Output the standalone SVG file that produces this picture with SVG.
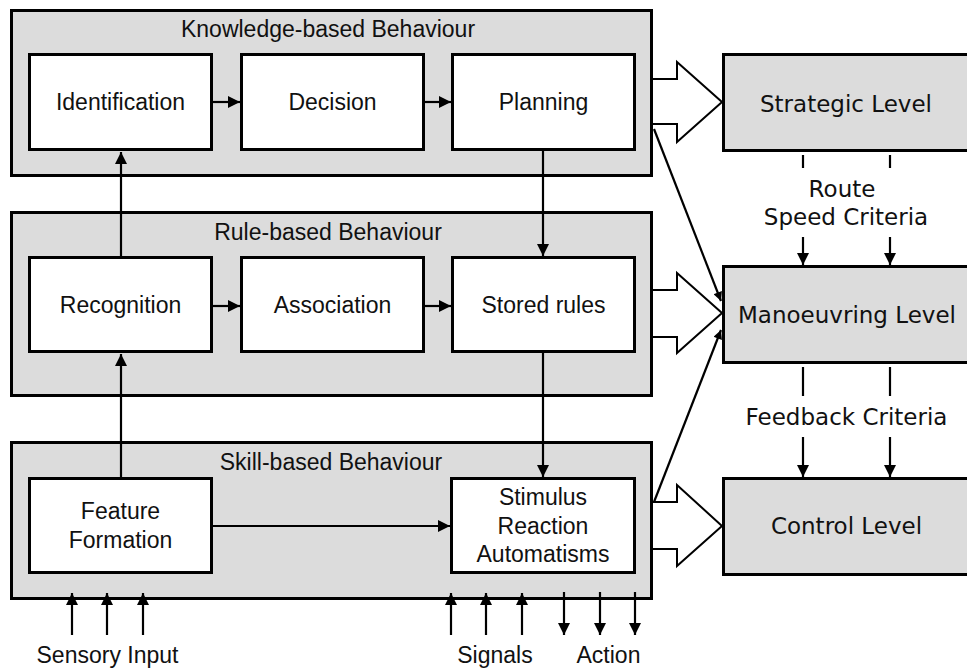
<svg xmlns="http://www.w3.org/2000/svg" width="967" height="669" viewBox="0 0 967 669">
<defs>
<style>
.group{fill:#dcdcdc;stroke:#000;stroke-width:3}
.box{fill:#fff;stroke:#000;stroke-width:3}
.level{fill:#dcdcdc;stroke:#000;stroke-width:3}
.t{font-family:"Liberation Sans",Arial,sans-serif;font-size:23px;fill:#111;text-anchor:middle}
.v{font-family:"DejaVu Sans",Verdana,sans-serif;font-size:23px;fill:#111;text-anchor:middle}
.c{stroke:#000;stroke-width:2.2;fill:none}
.hollow{fill:#fff;stroke:#000;stroke-width:2}
</style>
<marker id="ah" viewBox="0 0 10 10" refX="10" refY="5" markerUnits="userSpaceOnUse" markerWidth="13" markerHeight="12" orient="auto">
<path d="M0,0 L10,5 L0,10 z" fill="#000"/>
</marker>
<marker id="ahs" viewBox="0 0 10 10" refX="10" refY="5" markerUnits="userSpaceOnUse" markerWidth="11" markerHeight="9" orient="auto">
<path d="M0,0 L10,5 L0,10 z" fill="#000"/>
</marker>
</defs>

<g id="knowledge-group">
<rect class="group" x="11.5" y="10.5" width="640" height="165"/>
<text class="t" x="328" y="37">Knowledge-based Behaviour</text>
</g>
<g id="rule-group">
<rect class="group" x="11.5" y="212.5" width="640" height="183"/>
<text class="t" x="328" y="240">Rule-based Behaviour</text>
</g>
<g id="skill-group">
<rect class="group" x="11.5" y="442.5" width="640" height="156"/>
<text class="t" x="331" y="470">Skill-based Behaviour</text>
</g>

<g id="identification">
<rect class="box" x="29.5" y="54.5" width="182" height="95"/>
<text class="t" x="120.5" y="110">Identification</text>
</g>
<g id="decision">
<rect class="box" x="241.5" y="54.5" width="182" height="95"/>
<text class="t" x="332.5" y="110">Decision</text>
</g>
<g id="planning">
<rect class="box" x="452.5" y="54.5" width="182" height="95"/>
<text class="t" x="543.5" y="110">Planning</text>
</g>
<g id="recognition">
<rect class="box" x="29.5" y="257.5" width="182" height="94"/>
<text class="t" x="120.5" y="313">Recognition</text>
</g>
<g id="association">
<rect class="box" x="241.5" y="257.5" width="182" height="94"/>
<text class="t" x="332.5" y="313">Association</text>
</g>
<g id="stored-rules">
<rect class="box" x="452.5" y="257.5" width="182" height="94"/>
<text class="t" x="543.5" y="313">Stored rules</text>
</g>
<g id="feature-formation">
<rect class="box" x="29.5" y="478.5" width="182" height="94"/>
<text class="t" x="120.5" y="519">Feature</text>
<text class="t" x="120.5" y="548">Formation</text>
</g>
<g id="stimulus">
<rect class="box" x="451.5" y="478.5" width="183" height="94"/>
<text class="t" x="543" y="505">Stimulus</text>
<text class="t" x="543" y="534">Reaction</text>
<text class="t" x="543" y="562">Automatisms</text>
</g>

<g id="strategic-level">
<rect class="level" x="723.5" y="54.5" width="260" height="96"/>
<text class="v" x="846" y="112">Strategic Level</text>
</g>
<g id="manoeuvring-level">
<rect class="level" x="723.5" y="266.5" width="260" height="96"/>
<text class="v" x="847" y="323">Manoeuvring Level</text>
</g>
<g id="control-level">
<rect class="level" x="723.5" y="478.5" width="260" height="96"/>
<text class="v" x="846.5" y="534">Control Level</text>
</g>

<g id="connectors">
<!-- horizontal inner arrows -->
<line class="c" x1="213" y1="102" x2="240" y2="102" marker-end="url(#ah)"/>
<line class="c" x1="425" y1="102" x2="451" y2="102" marker-end="url(#ah)"/>
<line class="c" x1="213" y1="306" x2="240" y2="306" marker-end="url(#ah)"/>
<line class="c" x1="425" y1="306" x2="451" y2="306" marker-end="url(#ah)"/>
<line class="c" x1="213" y1="526" x2="450" y2="526" marker-end="url(#ah)"/>
<!-- vertical inner arrows -->
<line class="c" x1="121" y1="256" x2="121" y2="152" marker-end="url(#ah)"/>
<line class="c" x1="121" y1="477" x2="121" y2="354" marker-end="url(#ah)"/>
<line class="c" x1="543" y1="151" x2="543" y2="256" marker-end="url(#ah)"/>
<line class="c" x1="543" y1="353" x2="543" y2="477" marker-end="url(#ah)"/>
<!-- hollow arrows -->
<path class="hollow" d="M653,79 H677 V62 L722,102 L677,142 V124 H653"/>
<path class="hollow" d="M653,290 H677 V273 L722,313 L677,353 V337 H653"/>
<path class="hollow" d="M653,502 H677 V485 L722,526 L677,566 V549 H653"/>
<!-- diagonal arrows to manoeuvring -->
<line class="c" x1="654" y1="129" x2="721" y2="301" marker-end="url(#ahs)"/>
<line class="c" x1="654" y1="502" x2="721" y2="330" marker-end="url(#ahs)"/>
<!-- strategic to manoeuvring -->
<line class="c" x1="803" y1="155" x2="803" y2="168"/>
<line class="c" x1="890" y1="155" x2="890" y2="168"/>
<line class="c" x1="803" y1="237" x2="803" y2="265" marker-end="url(#ah)"/>
<line class="c" x1="890" y1="237" x2="890" y2="265" marker-end="url(#ah)"/>
<text class="v" x="842" y="197">Route</text>
<text class="v" x="846" y="225">Speed Criteria</text>
<!-- manoeuvring to control -->
<line class="c" x1="803" y1="367" x2="803" y2="396"/>
<line class="c" x1="890" y1="367" x2="890" y2="396"/>
<line class="c" x1="803" y1="437" x2="803" y2="477" marker-end="url(#ah)"/>
<line class="c" x1="890" y1="437" x2="890" y2="477" marker-end="url(#ah)"/>
<text class="v" x="846.5" y="425">Feedback Criteria</text>
<!-- bottom inputs / outputs -->
<line class="c" x1="72" y1="635" x2="72" y2="593" marker-end="url(#ah)"/>
<line class="c" x1="107" y1="635" x2="107" y2="593" marker-end="url(#ah)"/>
<line class="c" x1="143" y1="635" x2="143" y2="593" marker-end="url(#ah)"/>
<line class="c" x1="451" y1="635" x2="451" y2="593" marker-end="url(#ah)"/>
<line class="c" x1="486" y1="635" x2="486" y2="593" marker-end="url(#ah)"/>
<line class="c" x1="522" y1="635" x2="522" y2="593" marker-end="url(#ah)"/>
<line class="c" x1="564" y1="592" x2="564" y2="635" marker-end="url(#ah)"/>
<line class="c" x1="600" y1="592" x2="600" y2="635" marker-end="url(#ah)"/>
<line class="c" x1="635" y1="592" x2="635" y2="635" marker-end="url(#ah)"/>
<text class="t" x="107.5" y="663">Sensory Input</text>
<text class="t" x="495" y="663">Signals</text>
<text class="t" x="608.5" y="663">Action</text>
</g>
</svg>
